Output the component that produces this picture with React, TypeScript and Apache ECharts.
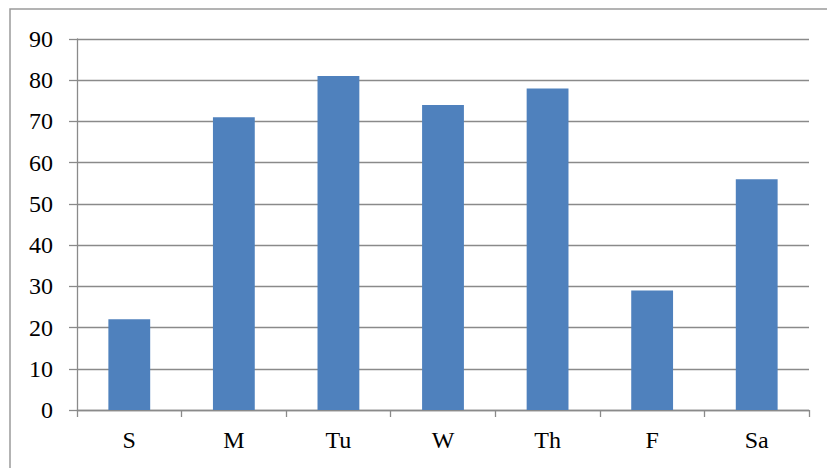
import React, { useEffect, useRef } from "react";
import * as echarts from "echarts";

const categories = ["S", "M", "Tu", "W", "Th", "F", "Sa"];
const values = [22, 71, 81, 74, 78, 29, 56];
const yTicks = { min: 0, max: 90, interval: 10 };

export default function App() {
  const ref = useRef<HTMLDivElement>(null);
  useEffect(() => {
    document.body.style.margin = "0";
    const chart = echarts.init(ref.current!, null, { renderer: "svg" });
    const font = "Liberation Serif";
    chart.setOption({
      animation: false,
      backgroundColor: "#ffffff",
      graphic: [
        {
          type: "rect",
          shape: { x: 10, y: 9, width: 900, height: 600 },
          style: { fill: "none", stroke: "#9a9a9a", lineWidth: 1.5 },
          silent: true,
        },
      ],
      grid: { left: 77, right: 18, top: 39, bottom: 58, containLabel: false },
      xAxis: {
        type: "category",
        data: categories,
        axisLine: { show: true, lineStyle: { color: "#8a8a8a", width: 1.3 } },
        axisTick: { show: true, length: 7, lineStyle: { color: "#8a8a8a", width: 1.3 } },
        axisLabel: {
          show: true,
          color: "#000000",
          fontFamily: font,
          fontSize: 24,
          margin: 18,
        },
        splitLine: { show: false },
      },
      yAxis: {
        type: "value",
        min: yTicks.min,
        max: yTicks.max,
        interval: yTicks.interval,
        axisLine: { show: true, lineStyle: { color: "#8a8a8a", width: 1.3 } },
        axisTick: { show: true, length: 8, lineStyle: { color: "#8a8a8a", width: 1.3 } },
        axisLabel: {
          show: true,
          color: "#000000",
          fontFamily: font,
          fontSize: 24,
          margin: 24,
        },
        splitLine: { show: true, lineStyle: { color: "#8a8a8a", width: 1.3 } },
      },
      series: [
        {
          type: "bar",
          data: values,
          barCategoryGap: "60%",
          itemStyle: { color: "#4F81BD" },
        },
      ],
    });
    return () => chart.dispose();
  }, []);
  return <div ref={ref} style={{ width: 827, height: 468 }} />;
}
